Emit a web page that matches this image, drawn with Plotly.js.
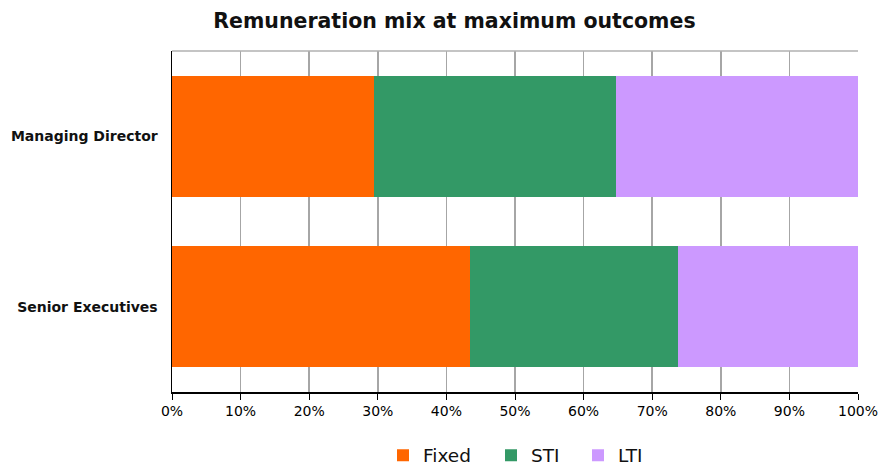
<!DOCTYPE html>
<html>
<head>
<meta charset="utf-8">
<script src="https://cdn.plot.ly/plotly-3.0.1.min.js"></script>
<style>html,body{margin:0;padding:0;background:#fff;}#chart{width:879px;height:465px;}</style>
</head>
<body>
<div id="chart"></div>
<script>
const categories = ["Managing Director", "Senior Executives"];
const fixed = [29.4, 43.5];
const sti = [35.3, 30.3];
const lti = [35.3, 26.2];
const seriesNames = ["Fixed", "STI", "LTI"];
const tickVals = [0, 10, 20, 30, 40, 50, 60, 70, 80, 90, 100];
const tickText = ["0%", "10%", "20%", "30%", "40%", "50%", "60%", "70%", "80%", "90%", "100%"];

const colors = ["#FF6600", "#339966", "#CC99FF"];
const seriesValues = [fixed, sti, lti];
const legendIds = ["legend", "legend2", "legend3"];
const legendX = [383, 491, 578];
const font = "DejaVu Sans, sans-serif";

const traces = seriesNames.map((n, i) => ({
  type: "bar",
  orientation: "h",
  name: n,
  y: categories,
  x: seriesValues[i],
  legend: legendIds[i],
  marker: {color: colors[i], line: {width: 0}},
  hoverinfo: "none"
}));

const layout = {
  width: 879, height: 465,
  paper_bgcolor: "#fff", plot_bgcolor: "#fff",
  margin: {l: 172, r: 21, t: 51, b: 73, autoexpand: false},
  barmode: "stack",
  bargap: 0.29,
  title: {text: "<b>Remuneration mix at maximum outcomes</b>", x: 0.517, xanchor: "center", y: 0.97, yanchor: "top",
          font: {family: font, size: 20.5, color: "#111"}},
  xaxis: {
    range: [0, 100], tickvals: tickVals, ticktext: tickText,
    showgrid: true, gridcolor: "#a6a6a6", gridwidth: 1.5,
    showline: true, linecolor: "#000", linewidth: 1.5,
    ticks: "outside", ticklen: 6, tickcolor: "#000",
    tickfont: {family: font, size: 14, color: "#000"},
    zeroline: false, fixedrange: true, automargin: false
  },
  yaxis: {
    autorange: "reversed",
    showline: true, linecolor: "#000", linewidth: 1.5,
    ticks: "", ticklen: 0, ticklabelstandoff: 10,
    tickfont: {family: font, size: 14, color: "#111", weight: "bold"},
    showgrid: false, fixedrange: true, automargin: false
  },
  shapes: [{type: "line", xref: "paper", yref: "paper", x0: 0, x1: 1, y0: 1, y1: 1,
            line: {color: "#b0b0b0", width: 1.5}}],
  showlegend: true
};
legendIds.forEach((id, i) => {
  layout[id] = {orientation: "h", x: legendX[i] / 879, xanchor: "left", xref: "container",
                y: 0.02, yanchor: "middle", yref: "container", bgcolor: "rgba(0,0,0,0)",
                font: {family: font, size: 18.5, color: "#111"}, itemwidth: 30};
});

Plotly.newPlot("chart", traces, layout, {displayModeBar: false, staticPlot: true});
</script>
</body>
</html>
